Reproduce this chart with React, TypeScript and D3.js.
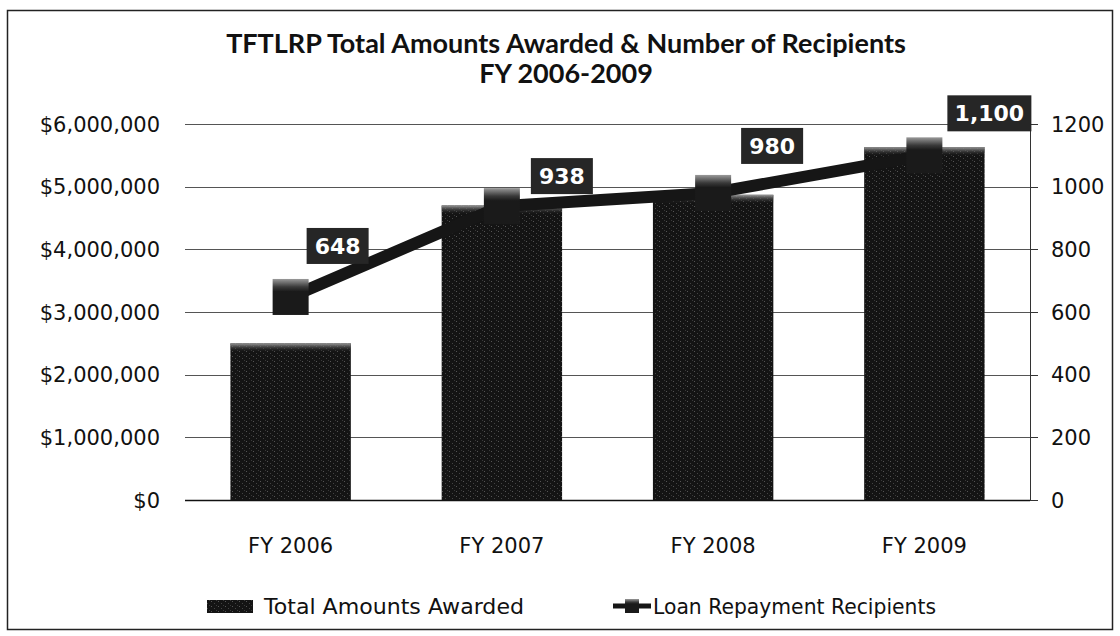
import React from "react";
import * as d3 from "d3";

const categories = ["FY 2006", "FY 2007", "FY 2008", "FY 2009"];
const amountsAwarded = [2500000, 4700000, 4870000, 5630000];
const recipients = [648, 938, 980, 1100];
const recipientLabels = ["648", "938", "980", "1,100"];
const leftTicks = [0, 1000000, 2000000, 3000000, 4000000, 5000000, 6000000];
const rightTicks = [0, 200, 400, 600, 800, 1000, 1200];
const titleLines = ["TFTLRP Total Amounts Awarded & Number of Recipients", "FY 2006-2009"];
const legendLabels = ["Total Amounts Awarded", "Loan Repayment Recipients"];
// label box offsets relative to marker centre (layout, not data)
const labelOffsets: [number, number][] = [[47, -51], [60, -30], [59, -47], [65, -42]];

const W = 1120, H = 636;
const plot = { left: 185, right: 1030, top: 124, bottom: 500 };

export default function App() {
  const x = d3.scaleBand<string>().domain(categories).range([plot.left, plot.right]).paddingInner(0.43).paddingOuter(0.215);
  const yL = d3.scaleLinear().domain([0, 6000000]).range([plot.bottom, plot.top]);
  const yR = d3.scaleLinear().domain([0, 1200]).range([plot.bottom, plot.top]);
  const fmtMoney = (v: number) => "$" + d3.format(",")(v);
  const cx = (c: string) => (x(c) as number) + x.bandwidth() / 2;
  const line = d3.line<number>().x((_, i) => cx(categories[i])).y((d) => yR(d));
  const axisFont = "'DejaVu Sans', Verdana, sans-serif";
  const ms = 36;

  return (
    <svg width={W} height={H} style={{ position: "absolute", left: 0, top: 0, background: "#fff" }}>
      <defs>
        <pattern id="speck" width="7" height="5" patternUnits="userSpaceOnUse">
          <rect width="7" height="5" fill="#141414" />
          <rect x="1" y="1" width="1" height="1" fill="#555" />
          <rect x="4" y="3" width="1" height="1" fill="#444" />
          <rect x="6" y="0" width="1" height="1" fill="#3a3a3a" />
        </pattern>
        <linearGradient id="barTop" x1="0" y1="0" x2="0" y2="1">
          <stop offset="0" stopColor="#9a9a9a" />
          <stop offset="1" stopColor="#141414" stopOpacity="0" />
        </linearGradient>
        <linearGradient id="mkG" x1="0" y1="0" x2="0" y2="1">
          <stop offset="0" stopColor="#9a9a9a" />
          <stop offset="0.22" stopColor="#3a3a3a" />
          <stop offset="0.35" stopColor="#1a1a1a" />
          <stop offset="1" stopColor="#1a1a1a" />
        </linearGradient>
      </defs>
      <rect x={7.5} y={10.5} width={1105} height={619} fill="#fff" stroke="#222" strokeWidth={1.5} />
      {/* title */}
      <text x={566} y={53} textAnchor="middle" fontFamily="Lato, 'Open Sans', sans-serif" fontWeight="bold" fontSize={27} fill="#111">
        {titleLines[0]}
      </text>
      <text x={566} y={83} textAnchor="middle" fontFamily="Lato, 'Open Sans', sans-serif" fontWeight="bold" fontSize={27} fill="#111">
        {titleLines[1]}
      </text>
      {/* gridlines */}
      {leftTicks.map((t) => (
        <line key={t} x1={plot.left} x2={plot.right} y1={Math.round(yL(t)) + 0.5} y2={Math.round(yL(t)) + 0.5} stroke={t === 0 ? "#111" : "#555"} strokeWidth={t === 0 ? 1.5 : 1} />
      ))}
      {/* left labels */}
      {leftTicks.map((t) => (
        <text key={"l" + t} x={160} y={yL(t)} dy="0.36em" textAnchor="end" fontFamily={axisFont} fontSize={21} fill="#111">
          {fmtMoney(t)}
        </text>
      ))}
      {/* right axis */}
      <line x1={plot.right + 0.5} x2={plot.right + 0.5} y1={plot.top} y2={plot.bottom} stroke="#333" strokeWidth={1} />
      {rightTicks.map((t) => (
        <g key={"r" + t}>
          <line x1={plot.right} x2={plot.right + 8} y1={Math.round(yR(t)) + 0.5} y2={Math.round(yR(t)) + 0.5} stroke="#333" />
          <text x={plot.right + 21} y={yR(t)} dy="0.36em" fontFamily={axisFont} fontSize={21} fill="#111">
            {t}
          </text>
        </g>
      ))}
      {/* bars */}
      {categories.map((c, i) => (
        <g key={"b" + c}>
          <rect x={x(c)} y={yL(amountsAwarded[i])} width={x.bandwidth()} height={yL(0) - yL(amountsAwarded[i])} fill="url(#speck)" />
          <rect x={x(c)} y={yL(amountsAwarded[i])} width={x.bandwidth()} height={9} fill="url(#barTop)" />
        </g>
      ))}
      {/* x labels */}
      {categories.map((c) => (
        <text key={"x" + c} x={cx(c)} y={545} dy="0.36em" textAnchor="middle" fontFamily={axisFont} fontSize={21} fill="#111">
          {c}
        </text>
      ))}
      {/* line */}
      <path d={line(recipients) || ""} fill="none" stroke="#161616" strokeWidth={12} strokeLinejoin="round" />
      {recipients.map((v, i) => (
        <rect key={"m" + i} x={cx(categories[i]) - ms / 2} y={yR(v) - ms / 2} width={ms} height={ms} fill="url(#mkG)" />
      ))}
      {/* data labels */}
      {recipients.map((v, i) => {
        const lx = cx(categories[i]) + labelOffsets[i][0];
        const ly = yR(v) + labelOffsets[i][1];
        const w = recipientLabels[i].length > 3 ? 84 : 62;
        return (
          <g key={"dl" + i}>
            <rect x={lx - w / 2} y={ly - 18} width={w} height={36} fill="#262626" />
            <text x={lx} y={ly} dy="0.36em" textAnchor="middle" fontFamily="'DejaVu Sans', sans-serif" fontWeight="bold" fontSize={22} fill="#fff">
              {recipientLabels[i]}
            </text>
          </g>
        );
      })}
      {/* legend */}
      <rect x={207} y={600} width={46} height={13} fill="url(#speck)" />
      <text x={264} y={606} dy="0.36em" fontFamily={axisFont} fontSize={22} fill="#111" textLength={260} lengthAdjust="spacingAndGlyphs">
        {legendLabels[0]}
      </text>
      <line x1={613} x2={651} y1={606} y2={606} stroke="#161616" strokeWidth={5} />
      <rect x={625} y={599} width={14} height={14} fill="url(#mkG)" />
      <text x={653} y={606} dy="0.36em" fontFamily={axisFont} fontSize={22} fill="#111" textLength={283} lengthAdjust="spacingAndGlyphs">
        {legendLabels[1]}
      </text>
    </svg>
  );
}
